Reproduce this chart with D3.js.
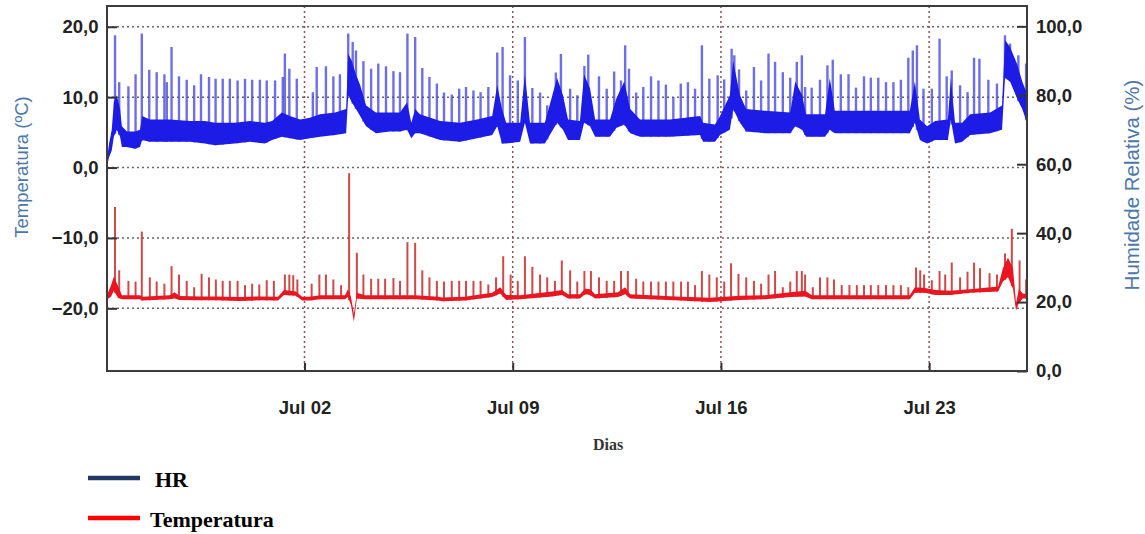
<!DOCTYPE html>
<html lang="pt">
<head>
    <meta charset="UTF-8">
    <title>Temperatura e Humidade Relativa</title>
    <script src="https://d3js.org/d3.v7.min.js"></script>
    <style>
        body { margin: 0; background: #fff; }
    </style>
</head>
<body>
    <div id="chart"></div>

    <script>
        // time t = days since 30 Jun 00:00 (so t = 2 is Jul 02)
        const xDomain = [-4.64, 26.29];
        const dateTicks = [2, 9, 16, 23];
        const tempTicks = [-20, -10, 0, 10, 20];
        const hrTicks = [0, 20, 40, 60, 80, 100];

        // HR noisy band: [t, low, high]
        const hrBand = [
            [-4.64, 59.5, 61.5], [-4.57, 62, 66], [-4.48, 64, 70], [-4.41, 68, 78], [-4.31, 70, 80],
            [-4.20, 68, 76], [-4.14, 65, 71], [-3.97, 65, 69.5], [-3.70, 64.5, 69.5], [-3.53, 65, 70],
            [-3.46, 67, 74], [-3.20, 66.5, 73], [-2.53, 66.5, 73], [-1.85, 66.5, 72.5], [-1.35, 66, 72.5],
            [-1.01, 65.5, 72], [-0.34, 66, 72], [0.17, 66.5, 72.5], [0.67, 66, 72], [0.91, 67, 72.5],
            [1.24, 68, 75], [1.51, 67.5, 74], [1.85, 67, 73], [2.18, 67.5, 73.5], [2.52, 68, 74.5],
            [3.03, 68.5, 75], [3.40, 69, 76], [3.47, 80, 92], [3.59, 78, 90], [3.73, 76, 86],
            [3.87, 74, 83], [4.07, 71, 77], [4.40, 69, 75], [4.87, 69.5, 75], [5.21, 69.5, 75],
            [5.45, 70, 78], [5.59, 67.5, 72], [5.72, 69, 76], [5.88, 69, 74.5], [6.56, 67, 72.5],
            [7.23, 66.5, 72], [7.80, 67.5, 73], [8.31, 68.5, 74], [8.48, 71, 83], [8.64, 66, 76],
            [8.78, 66, 72], [9.25, 66.5, 72], [9.41, 72, 86], [9.58, 66, 72], [10.08, 66, 72],
            [10.49, 72, 85], [10.69, 70, 80], [10.86, 67, 73], [11.26, 67, 72.5], [11.40, 72, 86],
            [11.60, 71, 82], [11.77, 68, 73], [12.27, 68, 73], [12.48, 70.5, 79], [12.75, 71.5, 84],
            [12.95, 69, 76], [13.28, 68, 73], [14.29, 68, 73], [15.30, 68.5, 74], [15.40, 66.5, 72],
            [15.80, 66.5, 71.5], [15.97, 68.5, 74], [16.30, 70, 80], [16.41, 76, 90], [16.64, 72, 80],
            [16.85, 69.5, 76], [17.48, 69, 75.5], [18.33, 69, 75], [18.50, 71, 84], [18.73, 70, 80],
            [18.86, 68, 74.5], [19.50, 68, 74.5], [19.66, 70, 85], [19.83, 69, 75.5], [21.01, 69, 75.5],
            [22.35, 69, 75.5], [22.52, 72, 84], [22.69, 67, 73], [22.93, 66, 71], [23.20, 67, 72.5],
            [23.63, 67, 73], [23.73, 73, 85], [23.87, 66, 72], [24.11, 66.5, 72], [24.38, 68.5, 74.5],
            [25.05, 69, 75], [25.45, 70, 77], [25.55, 85, 96], [25.72, 84, 94], [25.96, 79, 89],
            [26.13, 76, 84], [26.29, 72, 80.5]
        ];

        // HR defrost peaks: [t, peak]
        const hrSpikes = [
            [-4.37, 97.4], [-4.23, 83.8], [-3.92, 82.6], [-3.68, 86.1], [-3.47, 97.9], [-3.22, 87.4],
            [-2.97, 86.7], [-2.71, 86.1], [-2.63, 83.8], [-2.47, 94.0], [-2.22, 85.5], [-1.96, 84.5],
            [-1.71, 82.9], [-1.48, 86.1], [-1.21, 85.3], [-0.99, 84.8], [-0.75, 84.8], [-0.51, 84.8],
            [-0.25, 84.3], [0.00, 84.8], [0.24, 84.5], [0.50, 84.5], [0.73, 84.3], [1.01, 84.3],
            [1.27, 85.3], [1.34, 92.1], [1.49, 87.7], [1.74, 84.8], [2.28, 80.9], [2.41, 88.2],
            [2.72, 88.4], [2.97, 85.5], [3.19, 86.1], [3.47, 97.9], [3.62, 95.5], [3.73, 93.0],
            [3.98, 89.9], [4.24, 87.7], [4.48, 89.2], [4.74, 88.4], [4.99, 87.0], [5.21, 86.7],
            [5.46, 97.9], [5.72, 96.9], [5.96, 87.9], [6.20, 85.3], [6.45, 83.4], [6.69, 80.8],
            [6.95, 80.2], [7.20, 81.9], [7.43, 82.4], [7.68, 81.4], [7.92, 80.9], [8.18, 82.4],
            [8.48, 92.4], [8.66, 94.0], [8.91, 85.8], [9.17, 84.3], [9.41, 96.9], [9.66, 82.1],
            [9.92, 80.8], [10.16, 77.1], [10.45, 86.6], [10.62, 92.0], [10.93, 81.9], [11.17, 80.0],
            [11.41, 88.5], [11.54, 91.8], [11.90, 85.5], [12.16, 81.9], [12.41, 86.9], [12.64, 84.3],
            [12.78, 94.5], [12.91, 87.7], [13.15, 80.8], [13.39, 82.4], [13.65, 85.5], [13.90, 84.3],
            [14.15, 83.1], [14.40, 79.5], [14.65, 83.4], [14.89, 83.8], [15.13, 81.9], [15.36, 94.5],
            [15.61, 84.8], [15.89, 85.8], [16.11, 84.6], [16.36, 93.5], [16.45, 91.6], [16.61, 87.5],
            [16.85, 81.4], [17.11, 88.2], [17.35, 84.3], [17.60, 92.1], [17.82, 89.7], [18.08, 86.7],
            [18.33, 85.1], [18.55, 89.7], [18.72, 91.6], [18.83, 82.4], [19.05, 82.2], [19.33, 84.5],
            [19.58, 88.7], [19.76, 90.3], [20.03, 86.1], [20.29, 86.1], [20.54, 82.2], [20.81, 85.5],
            [21.04, 85.1], [21.29, 85.1], [21.55, 83.8], [21.80, 83.8], [22.05, 84.5], [22.30, 90.9],
            [22.45, 93.0], [22.59, 94.5], [22.81, 81.9], [23.09, 81.9], [23.35, 96.4], [23.59, 85.5],
            [23.76, 87.2], [24.04, 82.9], [24.29, 80.9], [24.51, 90.9], [24.69, 90.6], [24.99, 84.5],
            [25.28, 83.4], [25.55, 97.4], [25.72, 95.0], [26.00, 91.6], [26.26, 89.2]
        ];

        // temperature noisy band: [t, low, high]
        const tempBand = [
            [-4.64, -18.7, -18.1], [-4.51, -18.4, -16.8], [-4.41, -17.5, -15.5], [-4.27, -18.5, -16.8],
            [-4.14, -18.7, -18.15], [-3.53, -18.7, -18.15], [-3.46, -18.9, -18.35], [-2.53, -18.7, -18.15],
            [-2.37, -18.6, -17.7], [-2.19, -18.8, -18.25], [-1.51, -18.85, -18.3], [-1.01, -18.85, -18.3],
            [-0.17, -18.95, -18.4], [0.50, -18.85, -18.3], [1.11, -18.9, -18.35], [1.31, -18.1, -17.4],
            [1.71, -18.2, -17.6], [1.92, -18.9, -18.35], [2.18, -18.9, -18.35], [2.52, -18.7, -18.15],
            [3.36, -18.7, -18.15], [3.46, -18.4, -17.3], [3.56, -19.5, -18.3], [3.66, -21.9, -20.8],
            [3.76, -18.6, -17.8], [4.03, -18.7, -18.15], [5.21, -18.7, -18.15], [5.72, -18.7, -18.15],
            [6.49, -18.9, -18.35], [6.63, -19.0, -18.45], [7.40, -18.9, -18.35], [8.31, -18.4, -17.8],
            [8.58, -17.9, -17.0], [8.78, -18.8, -18.1], [9.25, -18.7, -18.15], [10.33, -18.3, -17.6],
            [10.66, -18.1, -17.4], [10.86, -18.6, -18.0], [11.26, -18.6, -18.0], [11.43, -18.0, -17.2],
            [11.60, -18.1, -17.3], [11.77, -18.6, -18.0], [12.54, -18.4, -17.7], [12.78, -18.0, -17.0],
            [12.95, -18.6, -18.0], [14.46, -18.85, -18.3], [15.63, -19.1, -18.5], [16.64, -18.8, -18.2],
            [17.48, -18.7, -18.15], [18.33, -18.4, -17.7], [18.83, -18.3, -17.5], [19.06, -18.7, -18.15],
            [22.35, -18.7, -18.15], [22.52, -17.8, -17.0], [22.86, -17.8, -17.1], [23.20, -18.1, -17.4],
            [23.70, -18.1, -17.5], [24.38, -17.8, -17.3], [25.32, -17.6, -16.9], [25.48, -16.2, -14.3],
            [25.65, -15.6, -12.8], [25.82, -17.2, -14.3], [25.92, -20.3, -19.2], [26.02, -19.2, -17.3],
            [26.15, -18.6, -17.9], [26.29, -18.6, -18.0]
        ];

        // temperature defrost peaks: [t, peak]
        const tempSpikes = [
            [-4.37, -5.6], [-4.23, -14.6], [-3.92, -16.1], [-3.68, -16.2], [-3.47, -9.1], [-3.20, -15.6],
            [-2.97, -16.2], [-2.71, -16.5], [-2.47, -14.0], [-2.22, -15.2], [-1.96, -16.1], [-1.71, -17.0],
            [-1.46, -15.1], [-1.21, -15.6], [-0.98, -15.9], [-0.75, -16.1], [-0.51, -16.1], [-0.25, -16.1],
            [0.00, -16.7], [0.24, -16.5], [0.48, -16.6], [0.73, -16.0], [0.97, -16.1], [1.34, -15.2],
            [1.49, -15.2], [1.62, -15.3], [1.76, -15.9], [2.24, -16.5], [2.50, -15.2], [2.72, -15.2],
            [2.97, -15.9], [3.23, -16.7], [3.50, -0.8], [3.76, -12.1], [3.98, -15.2], [4.24, -15.8],
            [4.48, -15.8], [4.71, -15.8], [4.99, -15.7], [5.21, -16.1], [5.46, -10.6], [5.72, -10.7],
            [5.96, -14.6], [6.20, -15.6], [6.45, -16.1], [6.69, -16.2], [6.95, -16.1], [7.20, -16.1],
            [7.43, -16.1], [7.68, -16.1], [7.92, -16.1], [8.18, -16.6], [8.44, -15.6], [8.68, -12.6],
            [8.93, -15.2], [9.17, -16.1], [9.41, -12.6], [9.66, -14.1], [9.92, -15.2], [10.16, -15.6],
            [10.42, -16.1], [10.65, -13.2], [10.93, -14.6], [11.17, -16.2], [11.41, -14.7], [11.63, -14.7],
            [11.90, -15.6], [12.16, -16.1], [12.41, -16.1], [12.64, -14.7], [12.87, -14.7], [13.15, -15.8],
            [13.39, -16.2], [13.65, -16.2], [13.90, -16.2], [14.15, -16.2], [14.40, -16.2], [14.66, -16.2],
            [14.89, -16.2], [15.13, -16.7], [15.36, -14.7], [15.61, -15.2], [15.86, -15.6], [16.11, -16.2],
            [16.34, -13.6], [16.59, -15.1], [16.85, -15.6], [17.11, -16.1], [17.35, -16.5], [17.60, -15.2],
            [17.82, -14.7], [18.08, -17.0], [18.33, -16.2], [18.55, -14.7], [18.72, -14.7], [18.83, -15.2],
            [19.09, -17.0], [19.33, -15.6], [19.58, -15.6], [19.80, -15.9], [20.06, -16.7], [20.32, -16.7],
            [20.57, -16.7], [20.81, -16.7], [21.04, -16.7], [21.29, -16.7], [21.55, -16.7], [21.80, -16.7],
            [22.05, -16.7], [22.30, -17.0], [22.56, -14.2], [22.70, -14.6], [22.83, -15.2], [23.09, -16.0],
            [23.35, -14.7], [23.54, -15.2], [23.76, -13.5], [24.04, -15.6], [24.29, -14.8], [24.51, -13.5],
            [24.71, -14.3], [25.03, -15.0], [25.28, -15.2], [25.55, -12.2], [25.78, -8.7], [26.04, -13.2],
            [26.26, -15.9]
        ];

        const W = 1145, H = 534;
        const plot = { left: 107, right: 1027, top: 6, bottom: 371 };

        const base = Date.UTC(2021, 5, 30);
        const toDate = t => new Date(base + t * 864e5);

        const x = d3.scaleUtc()
            .domain(xDomain.map(toDate))
            .range([plot.left, plot.right]);
        const yT = d3.scaleLinear()
            .domain([-28.9, 22.95])
            .range([plot.bottom, plot.top]);
        const yH = d3.scaleLinear()
            .domain([0, 105.9])
            .range([plot.bottom, plot.top]);

        const locale = d3.formatLocale({ decimal: ",", thousands: ".", grouping: [3], currency: ["", "€"] });
        const fmt = locale.format(".1f");

        const svg = d3.select("#chart")
            .append("svg")
            .attr("width", W)
            .attr("height", H)
            .style("font-family", "'Liberation Sans', Arial, sans-serif");

        // grid
        const grid = svg.append("g")
            .attr("fill", "none")
            .attr("stroke-width", 1.5)
            .attr("stroke-dasharray", "2,3");
        grid.selectAll(".hg")
            .data(tempTicks)
            .enter()
            .append("line")
            .attr("x1", plot.left)
            .attr("x2", plot.right)
            .attr("y1", d => yT(d))
            .attr("y2", d => yT(d))
            .attr("stroke", "#6b6262");
        grid.selectAll(".vg")
            .data(dateTicks)
            .enter()
            .append("line")
            .attr("x1", d => x(toDate(d)))
            .attr("x2", d => x(toDate(d)))
            .attr("y1", plot.top)
            .attr("y2", plot.bottom)
            .attr("stroke", "#94504f");

        // low edge of a band at time t, used as the foot of each spike
        const bandLow = (band, t) => {
            const i = d3.bisector(d => d[0]).left(band, t);
            const a = band[Math.max(0, i - 1)], b = band[Math.min(band.length - 1, i)];
            if (a === b) return a[1];
            const k = (t - a[0]) / (b[0] - a[0]);
            return a[1] + k * (b[1] - a[1]);
        };

        const drawSeries = (band, spikes, y, bandColor, spikeColor, spikeWidth) => {
            const g = svg.append("g");
            g.selectAll("line")
                .data(spikes)
                .enter()
                .append("line")
                .attr("x1", d => x(toDate(d[0])))
                .attr("x2", d => x(toDate(d[0])))
                .attr("y1", d => y(bandLow(band, d[0])))
                .attr("y2", d => y(d[1]))
                .attr("stroke", spikeColor)
                .attr("stroke-width", spikeWidth);
            g.append("path")
                .datum(band)
                .attr("fill", bandColor)
                .attr("d", d3.area()
                    .x(d => x(toDate(d[0])))
                    .y0(d => y(d[1]))
                    .y1(d => y(d[2])));
        };

        drawSeries(hrBand, hrSpikes, yH, "#1c1ce6", "rgba(75,75,222,0.8)", 2.4);
        drawSeries(tempBand, tempSpikes, yT, "#ea1520", "rgba(200,40,40,0.85)", 2);

        // axes
        const styleAxis = g => {
            g.select(".domain").remove();
            g.selectAll(".tick line").attr("stroke", "#333").attr("stroke-width", 2);
            g.selectAll(".tick text")
                .attr("fill", "#222")
                .style("font-size", "18.5px")
                .style("font-weight", "bold")
                .style("font-family", "'Liberation Sans', Arial, sans-serif");
        };

        svg.append("g")
            .attr("transform", `translate(${plot.left},0)`)
            .call(d3.axisLeft(yT).tickValues(tempTicks).tickFormat(fmt).tickSize(-10).tickPadding(8.5))
            .call(styleAxis);

        svg.append("g")
            .attr("transform", `translate(${plot.right},0)`)
            .call(d3.axisRight(yH).tickValues(hrTicks).tickFormat(fmt).tickSize(-10).tickPadding(9))
            .call(styleAxis);

        svg.append("g")
            .attr("transform", `translate(0,${plot.bottom})`)
            .call(d3.axisBottom(x).tickValues(dateTicks.map(toDate)).tickFormat(d3.utcFormat("%b %d")).tickSize(-8).tickPadding(30))
            .call(styleAxis);

        // frame
        svg.append("rect")
            .attr("x", plot.left)
            .attr("y", plot.top)
            .attr("width", plot.right - plot.left)
            .attr("height", plot.bottom - plot.top)
            .attr("fill", "none")
            .attr("stroke", "#3c3c3c")
            .attr("stroke-width", 2);

        // axis titles
        svg.append("text")
            .attr("transform", "translate(28,167) rotate(-90)")
            .attr("text-anchor", "middle")
            .attr("fill", "#4d77a8")
            .style("font-size", "18.5px")
            .text("Temperatura (ºC)");

        svg.append("text")
            .attr("transform", "translate(1139,185) rotate(-90)")
            .attr("text-anchor", "middle")
            .attr("fill", "#4d77a8")
            .style("font-size", "20.5px")
            .text("Humidade Relativa (%)");

        svg.append("text")
            .attr("x", 608)
            .attr("y", 450)
            .attr("text-anchor", "middle")
            .attr("fill", "#333")
            .style("font-family", "'Liberation Serif', serif")
            .style("font-weight", "bold")
            .style("font-size", "16px")
            .text("Dias");

        // legend
        const legend = [
            { name: "HR", color: "#1f3864", y: 478, tx: 155 },
            { name: "Temperatura", color: "#ff0000", y: 518, tx: 150 }
        ];
        const lg = svg.append("g");
        lg.selectAll("line")
            .data(legend)
            .enter()
            .append("line")
            .attr("x1", 88)
            .attr("x2", 140)
            .attr("y1", d => d.y)
            .attr("y2", d => d.y)
            .attr("stroke", d => d.color)
            .attr("stroke-width", 4.5);
        lg.selectAll("text")
            .data(legend)
            .enter()
            .append("text")
            .attr("x", d => d.tx)
            .attr("y", d => d.y + 9)
            .attr("fill", "#000")
            .style("font-family", "'Liberation Serif', serif")
            .style("font-weight", "bold")
            .style("font-size", "22px")
            .text(d => d.name);
    </script>
</body>
</html>
